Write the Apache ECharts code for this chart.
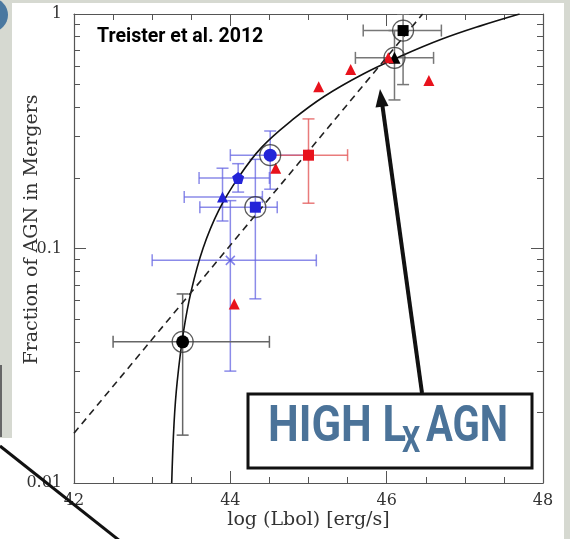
<!DOCTYPE html>
<html>
<head>
<meta charset="utf-8">
<script src="https://cdn.jsdelivr.net/npm/echarts@6/dist/echarts.min.js"></script>
<style>
html, body { margin: 0; padding: 0; background: #fff; }
#chart { width: 570px; height: 539px; }
</style>
</head>
<body>
<div id="chart"></div>
<script>
// axis ticks
const xTicks = [42, 44, 46, 48];
const yMinorTicks = [0.02, 0.03, 0.04, 0.05, 0.06, 0.07, 0.08, 0.09,
    0.2, 0.3, 0.4, 0.5, 0.6, 0.7, 0.8, 0.9];

// points with error bars: [x, y, xLow, xHigh, yLow, yHigh]
const blackCircle = [[43.39, 0.040, 42.5, 44.5, 0.016, 0.064]];
const blackSquare = [[46.21, 0.85, 45.7, 46.7, 0.50, 1.0]];
const blackTriangle = [[46.1, 0.65, 45.6, 46.6, 0.43, 0.85]];
const blueCross = [[44.0, 0.089, 43.0, 45.1, 0.030, 0.16]];
const blueSquare = [[44.32, 0.150, 43.61, 44.6, 0.061, 0.24]];
const blueTriangle = [[43.9, 0.166, 43.41, 44.41, 0.131, 0.22]];
const bluePentagon = [[44.1, 0.200, 43.6, 44.5, 0.174, 0.23]];
const blueCircle = [[44.51, 0.25, 44.0, 45.0, 0.179, 0.317]];
const redSquare = [[45.0, 0.25, 44.5, 45.5, 0.156, 0.357]];

// points without error bars
const redTriangles = [[44.58, 0.22], [44.05, 0.058], [45.13, 0.49],
    [45.54, 0.58], [46.02, 0.65], [46.54, 0.52]];

// model curve (solid) and power-law (dashed)
const modelCurve = [[43.25, 0.01], [43.28, 0.018], [43.32, 0.027], [43.4, 0.044],
    [43.5, 0.066], [43.65, 0.1], [43.85, 0.145], [44.1, 0.2], [44.4, 0.27],
    [44.8, 0.355], [45.2, 0.445], [45.7, 0.555], [46.2, 0.665], [46.7, 0.78],
    [47.2, 0.89], [47.7, 1.0]];
const dashedLine = [[42, 0.0163], [46.46, 1.0]];

const ringed = [blackCircle, blackSquare, blackTriangle, blueSquare, blueCircle]
    .map((s) => [s[0][0], s[0][1]]);

const axisColor = '#555';
const serif = 'DejaVu Serif';
const blue = '#2424d8';
const red = '#e8121c';

function errorBars(data, color) {
    return {
        type: 'custom',
        data: data,
        clip: true,
        z: 1,
        encode: { x: 0, y: 1 },
        renderItem: (params, api) => {
            const l = api.coord([api.value(2), api.value(1)]);
            const r = api.coord([api.value(3), api.value(1)]);
            const b = api.coord([api.value(0), api.value(4)]);
            const t = api.coord([api.value(0), api.value(5)]);
            const cap = 6;
            const style = { stroke: color, lineWidth: 1.5 };
            const seg = (x1, y1, x2, y2) => ({ type: 'line', shape: { x1, y1, x2, y2 }, style });
            return {
                type: 'group',
                children: [
                    seg(l[0], l[1], r[0], r[1]),
                    seg(b[0], b[1], t[0], t[1]),
                    seg(l[0], l[1] - cap, l[0], l[1] + cap),
                    seg(r[0], r[1] - cap, r[0], r[1] + cap),
                    seg(b[0] - cap, b[1], b[0] + cap, b[1]),
                    seg(t[0] - cap, t[1], t[0] + cap, t[1]),
                ],
            };
        },
    };
}

function markers(data, symbol, size, color, extra) {
    return Object.assign({
        type: 'scatter',
        data: data.map((p) => [p[0], p[1]]),
        symbol: symbol,
        symbolSize: size,
        z: 3,
        itemStyle: { color: color, opacity: 1 },
    }, extra || {});
}

const yBase = {
    type: 'log',
    logBase: 10,
    min: 0.01,
    max: 1,
    splitLine: { show: false },
};
const xBase = {
    type: 'value',
    min: 42,
    max: 48,
    interval: 2,
    splitLine: { show: false },
    minorTick: { show: true, splitNumber: 4, length: 6, lineStyle: { color: axisColor } },
};

const option = {
    backgroundColor: '#fff',
    animation: false,
    grid: { left: 74, top: 14, right: 27, bottom: 56, outerBoundsMode: 'none' },
    xAxis: [
        {
            ...xBase,
            position: 'bottom',
            axisLine: { lineStyle: { color: axisColor, width: 1.2 } },
            axisTick: { inside: true, length: 12, lineStyle: { color: axisColor } },
            axisLabel: { color: '#333', fontFamily: serif, fontSize: 16, margin: 10,
                formatter: (v) => (xTicks.includes(v) ? String(v) : '') },
            name: 'log (Lbol) [erg/s]',
            nameLocation: 'middle',
            nameGap: 28,
            nameMoveOverlap: false,
            nameTextStyle: { color: '#333', fontFamily: serif, fontSize: 19 },
        },
        {
            ...xBase,
            position: 'top',
            axisLine: { lineStyle: { color: axisColor, width: 1.2 } },
            axisTick: { inside: true, length: 12, lineStyle: { color: axisColor } },
            axisLabel: { show: false },
        },
    ],
    yAxis: [
        {
            ...yBase,
            position: 'left',
            axisLine: { show: true, lineStyle: { color: axisColor, width: 1.2 } },
            axisTick: { inside: true, length: 12, lineStyle: { color: axisColor } },
            axisLabel: { color: '#333', fontFamily: serif, fontSize: 16, margin: 12 },
            name: 'Fraction of AGN in Mergers',
            nameLocation: 'middle',
            nameGap: 32,
            nameMoveOverlap: false,
            nameTextStyle: { color: '#333', fontFamily: serif, fontSize: 19, padding: [0, 0, 0, 38] },
        },
        {
            ...yBase,
            position: 'left',
            axisLine: { show: false },
            axisTick: { inside: true, length: 6, customValues: yMinorTicks, lineStyle: { color: axisColor } },
            axisLabel: { show: false },
        },
        {
            ...yBase,
            position: 'right',
            axisLine: { show: true, lineStyle: { color: axisColor, width: 1.2 } },
            axisTick: { inside: true, length: 12, lineStyle: { color: axisColor } },
            axisLabel: { show: false },
        },
        {
            ...yBase,
            position: 'right',
            axisLine: { show: false },
            axisTick: { inside: true, length: 6, customValues: yMinorTicks, lineStyle: { color: axisColor } },
            axisLabel: { show: false },
        },
    ],
    series: [
        {
            type: 'line',
            data: modelCurve,
            smooth: 0.4,
            showSymbol: false,
            z: 2,
            lineStyle: { color: '#111', width: 1.6 },
        },
        {
            type: 'line',
            data: dashedLine,
            showSymbol: false,
            z: 2,
            lineStyle: { color: '#222', width: 1.6, type: [7, 5] },
        },
        errorBars(blueCross, 'rgba(100,100,225,0.75)'),
        errorBars(blueSquare, 'rgba(100,100,225,0.75)'),
        errorBars(blueTriangle, 'rgba(100,100,225,0.75)'),
        errorBars(bluePentagon, 'rgba(100,100,225,0.75)'),
        errorBars(blueCircle, 'rgba(100,100,225,0.75)'),
        errorBars(redSquare, 'rgba(228,90,90,0.8)'),
        errorBars(blackCircle, '#666'),
        errorBars(blackSquare, '#777'),
        errorBars(blackTriangle, '#777'),
        markers(blackCircle, 'circle', 13, '#000'),
        markers(blackSquare, 'rect', 11, '#000'),
        markers(blackTriangle, 'triangle', 12, '#000'),
        markers(blueCross, 'path://M0,0L10,10M10,0L0,10', 9, 'none',
            { itemStyle: { color: 'none', borderColor: 'rgba(80,80,225,0.9)', borderWidth: 1.5 } }),
        markers(blueSquare, 'rect', 11, blue),
        markers(blueTriangle, 'triangle', 11, blue),
        markers(bluePentagon, 'path://M5,0L10,3.8L8.1,10L1.9,10L0,3.8Z', 12, blue),
        markers(blueCircle, 'circle', 13, blue),
        markers(redSquare, 'rect', 11, red),
        markers(redTriangles, 'triangle', 11, red),
        markers(ringed, 'circle', 21, 'transparent',
            { z: 4, itemStyle: { color: 'transparent', borderColor: '#333', borderWidth: 1.2 } }),
    ],
    graphic: [
        // page frame
        { type: 'rect', shape: { x: 0, y: 0, width: 570, height: 3 }, style: { fill: '#d6d9d1' }, z: 0 },
        { type: 'rect', shape: { x: 0, y: 0, width: 12, height: 438 }, style: { fill: '#d6d9d1' }, z: 0 },
        { type: 'rect', shape: { x: 0, y: 365, width: 2, height: 72 }, style: { fill: '#666' }, z: 0 },
        { type: 'rect', shape: { x: 564, y: 0, width: 6, height: 539 }, style: { fill: '#d6d9d1' }, z: 0 },
        { type: 'circle', shape: { cx: -9, cy: 15, r: 17 }, style: { fill: '#4a78a0' }, z: 10 },
        { type: 'line', shape: { x1: 0, y1: 446, x2: 120, y2: 541 }, style: { stroke: '#111', lineWidth: 3 }, z: 100 },
        // citation
        {
            type: 'text', x: 97, y: 37, scaleX: 0.93, z: 100,
            style: { text: 'Treister et al. 2012', fill: '#000', font: 'bold 21px Roboto',
                textAlign: 'left', textVerticalAlign: 'middle', verticalAlign: 'middle' },
        },
        // arrow
        { type: 'line', shape: { x1: 422, y1: 393, x2: 382.2, y2: 104 }, style: { stroke: '#111', lineWidth: 4 }, z: 100 },
        { type: 'polygon', shape: { points: [[380, 89], [388.5, 106], [375.5, 107.5]] }, style: { fill: '#111' }, z: 100 },
        // callout box
        { type: 'rect', shape: { x: 248, y: 394, width: 284, height: 74 },
            style: { fill: '#fff', stroke: '#111', lineWidth: 3 }, z: 100 },
        {
            type: 'text', x: 268, y: 428, scaleX: 0.87, z: 101,
            style: { text: 'HIGH L', fill: '#4b7399', font: 'bold 50px Roboto',
                textAlign: 'left', textVerticalAlign: 'middle', verticalAlign: 'middle' },
        },
        {
            type: 'text', x: 402, y: 443, scaleX: 0.8, z: 101,
            style: { text: 'X', fill: '#4b7399', font: 'bold 36px Roboto',
                textAlign: 'left', textVerticalAlign: 'middle', verticalAlign: 'middle' },
        },
        {
            type: 'text', x: 426, y: 428, scaleX: 0.8, z: 101,
            style: { text: 'AGN', fill: '#4b7399', font: 'bold 50px Roboto',
                textAlign: 'left', textVerticalAlign: 'middle', verticalAlign: 'middle' },
        },
    ],
};

const myChart = echarts.init(document.getElementById('chart'));
myChart.setOption(option);
</script>
</body>
</html>
